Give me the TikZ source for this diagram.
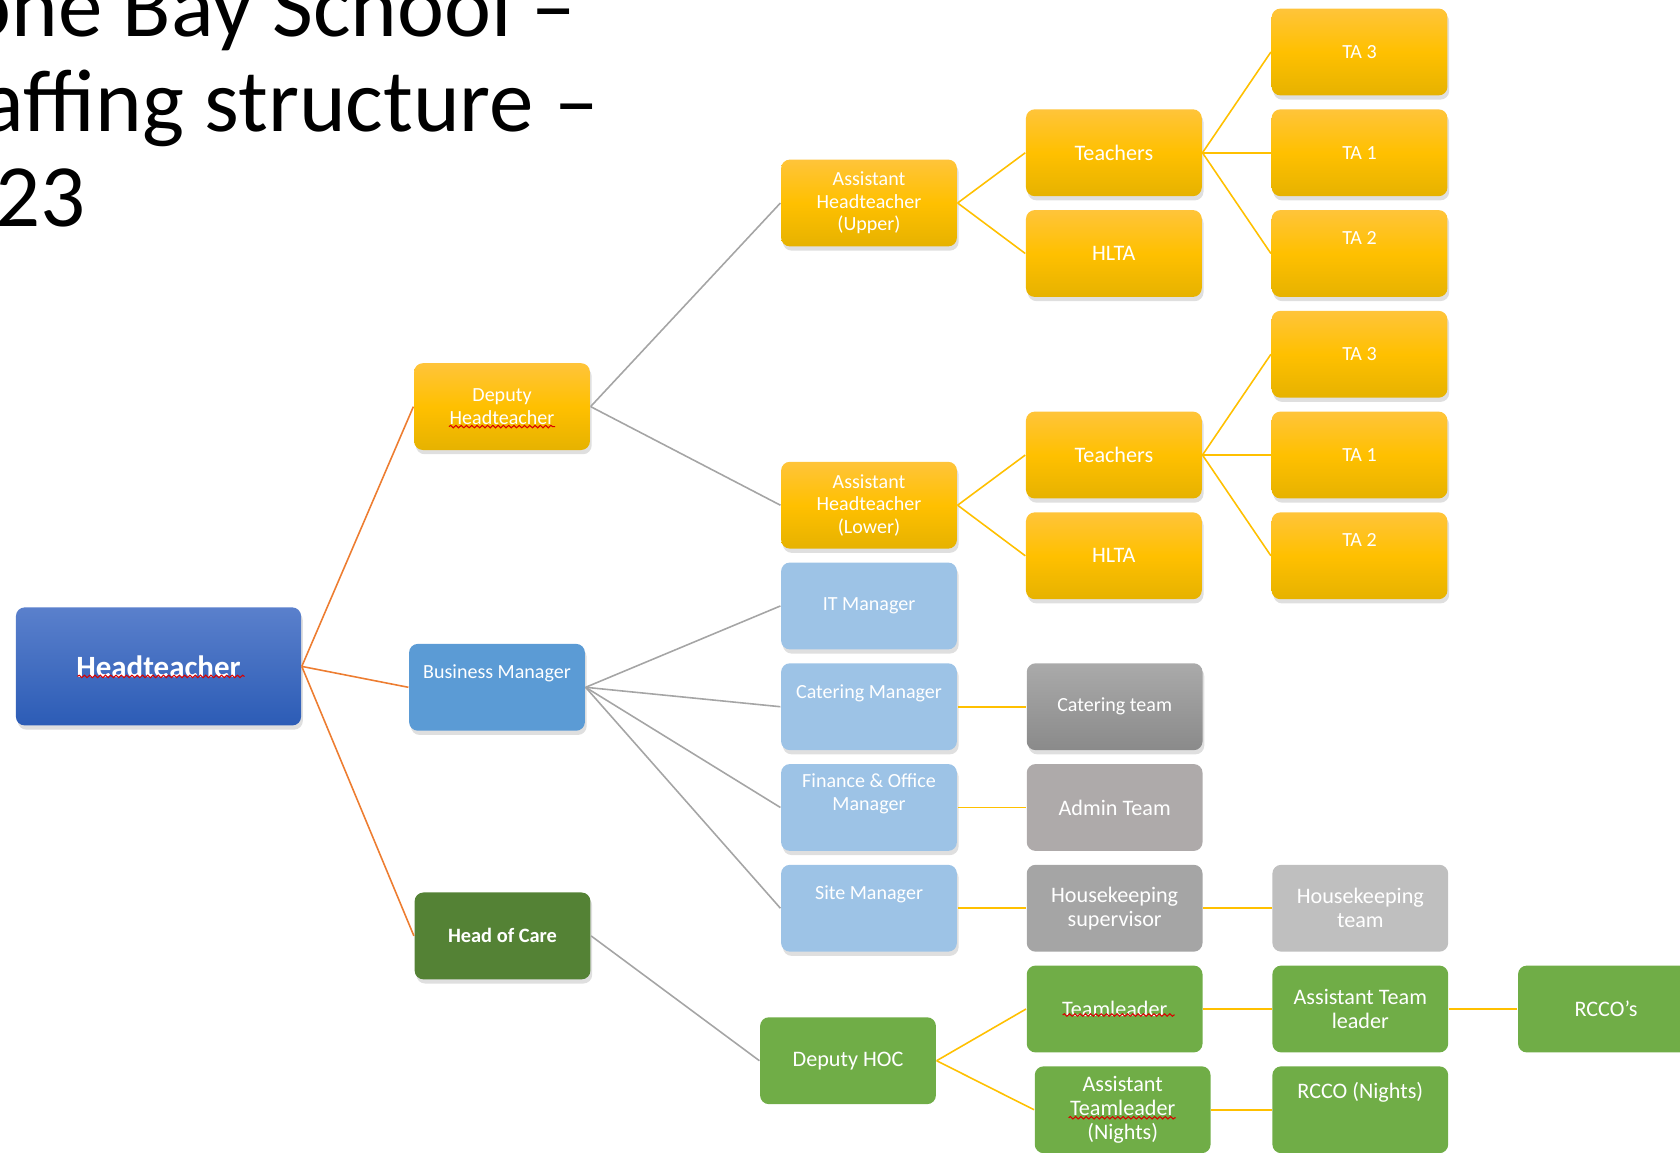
\documentclass[tikz,border=0pt]{standalone}
\usepackage{fontspec}
\setmainfont{Carlito}
\usetikzlibrary{positioning,shadows,calc,decorations.pathmorphing}

\definecolor{htTop}{RGB}{90,128,204}
\definecolor{htBot}{RGB}{44,92,182}
\definecolor{yelTop}{RGB}{255,196,58}
\definecolor{yelMid}{RGB}{255,192,0}
\definecolor{yelBot}{RGB}{230,178,0}
\definecolor{bmBlue}{RGB}{91,155,213}
\definecolor{ltBlue}{RGB}{157,195,230}
\definecolor{hocGreen}{RGB}{84,130,53}
\definecolor{grn}{RGB}{112,173,71}
\definecolor{ctTop}{RGB}{170,170,170}
\definecolor{ctBot}{RGB}{138,138,138}
\definecolor{adminGray}{RGB}{174,170,170}
\definecolor{hkGray}{RGB}{165,165,165}
\definecolor{hkLight}{RGB}{191,191,191}
\definecolor{lnOrange}{RGB}{237,125,49}
\definecolor{lnGray}{RGB}{165,165,165}
\definecolor{lnYellow}{RGB}{255,192,0}

\tikzset{
  box/.style={rounded corners=2.5pt, minimum width=1.757cm, minimum height=0.868cm,
    inner sep=1pt, align=center, text=white, font=\fontsize{5.7}{6.4}\selectfont},
  big/.style={font=\fontsize{6.3}{6.8}\selectfont},
  up/.style={text depth=8.8pt},
  shad/.style={drop shadow={opacity=0.25, shadow xshift=0.5pt, shadow yshift=-1.2pt}},
  yel/.style={box, shad, top color=yelTop, bottom color=yelBot, middle color=yelMid},
  ltb/.style={box, shad, fill=ltBlue},
  grnbox/.style={box, big, fill=grn},
  title/.style={anchor=base west, inner sep=0pt, font=\fontsize{25.3}{28}\selectfont},
  orangeln/.style={draw=lnOrange, line width=0.45pt},
  grayln/.style={draw=lnGray, line width=0.45pt},
  yelln/.style={draw=lnYellow, line width=0.45pt},
  spell/.style={red!85!black, line width=0.3pt, decorate,
    decoration={snake, amplitude=0.35pt, segment length=1.5pt}},
}

\begin{document}
\begin{tikzpicture}[x=0.01cm, y=-0.01cm, node distance=1.007cm and 2.455cm, on grid]
  \useasboundingbox (0,0) rectangle (1680,1152);

  % title, cut off at the left edge
  \node[title] (tl1) at (-36,37) {one Bay School –};
  \node[title] (tl2) at (-19,132) {affing structure –};
  \node[title] (tl3) at (-5,227) {23};

  \node[box, shad, top color=htTop, bottom color=htBot, minimum width=2.85cm,
    minimum height=1.18cm, font=\fontsize{8.8}{10}\selectfont\bfseries] (ht) at (158.5,666.4) {Headteacher};
  \node[yel] (dh) at (502,406.6) {Deputy\\Headteacher};
  \node[box, shad, up, fill=bmBlue] (bm) at (497,687.3) {Business Manager};
  \node[box, shad, fill=hocGreen, font=\fontsize{5.8}{6.4}\selectfont\bfseries] (hoc) at (502.5,935.9) {Head of Care};

  % teaching staff
  \node[yel] (ta3u) at (1359.5,52) {TA 3};
  \node[yel] (ta1u) [below=of ta3u] {TA 1};
  \node[yel, up] (ta2u) [below=of ta1u] {TA 2};
  \node[yel] (ta3l) [below=of ta2u] {TA 3};
  \node[yel] (ta1l) [below=of ta3l] {TA 1};
  \node[yel, up] (ta2l) [below=of ta1l] {TA 2};
  \node[yel, big] (tu) [left=of ta1u] {Teachers};
  \node[yel, big] (hu) [left=of ta2u] {HLTA};
  \node[yel, big] (tl) [left=of ta1l] {Teachers};
  \node[yel, big] (hl) [left=of ta2l] {HLTA};
  \node[yel] (ahu) at (869,203) {Assistant\\Headteacher\\(Upper)};
  \node[yel] (ahl) at (869,505.2) {Assistant\\Headteacher\\(Lower)};

  % support staff
  \node[ltb] (itm) [below=of ahl] {IT Manager};
  \node[ltb, up] (cm) [below=of itm] {Catering Manager};
  \node[ltb, up] (fm) [below=of cm] {Finance \& Office\\Manager};
  \node[ltb, up] (sm) [below=of fm] {Site Manager};
  \node[box, shad, top color=ctTop, bottom color=ctBot] (ct) [right=of cm] {Catering team};
  \node[box, big, fill=adminGray] (adm) [right=of fm] {Admin Team};
  \node[box, big, fill=hkGray] (hks) [right=of sm] {Housekeeping\\supervisor};
  \node[box, big, fill=hkLight] (hkt) [right=of hks] {Housekeeping\\team};

  % care staff
  \node[grnbox] (dhoc) at (848,1060.7) {Deputy HOC};
  \node[grnbox] (tld) [below=of hks] {Teamleader};
  \node[grnbox] (atl) [right=of tld] {Assistant Team\\leader};
  \node[grnbox] (rcco) [right=of atl] {RCCO’s};
  \node[grnbox] (atn) [below=of tld, xshift=0.08cm] {Assistant\\Teamleader\\(Nights)};
  \node[grnbox, text depth=11pt] (rccon) [below=of atl] {RCCO (Nights)};

  \path[orangeln]
  (ht.east) edge (dh.west)
  (ht.east) edge (bm.west)
  (ht.east) edge (hoc.west);

  \path[grayln]
  (dh.east) edge (ahu.west)
  (dh.east) edge (ahl.west)
  (bm.east) edge (itm.west)
  (bm.east) edge (cm.west)
  (bm.east) edge (fm.west)
  (bm.east) edge (sm.west)
  (hoc.east) edge (dhoc.west);

  \path[yelln]
  (ahu.east) edge (tu.west)
  (ahu.east) edge (hu.west)
  (tu.east) edge (ta3u.west)
  (tu.east) edge (ta1u.west)
  (tu.east) edge (ta2u.west)
  (ahl.east) edge (tl.west)
  (ahl.east) edge (hl.west)
  (tl.east) edge (ta3l.west)
  (tl.east) edge (ta1l.west)
  (tl.east) edge (ta2l.west)
  (cm.east) edge (ct.west)
  (fm.east) edge (adm.west)
  (sm.east) edge (hks.west)
  (hks.east) edge (hkt.west)
  (dhoc.east) edge (tld.west)
  (dhoc.east) edge (atn.west)
  (tld.east) edge (atl.west)
  (atl.east) edge (rcco.west)
  (atn.east) edge (rccon.west);

  % spell-check marks
  \draw[spell] ($(ht.center)+(-81,10)$) -- ++(167,0);
  \draw[spell] ($(dh.center)+(-53,20)$) -- ++(106,0);
  \draw[spell] ($(tld.center)+(-52,6)$) -- ++(112,0);
  \draw[spell] ($(atn.center)+(-54,8)$) -- ++(107,0);
\end{tikzpicture}
\end{document}
